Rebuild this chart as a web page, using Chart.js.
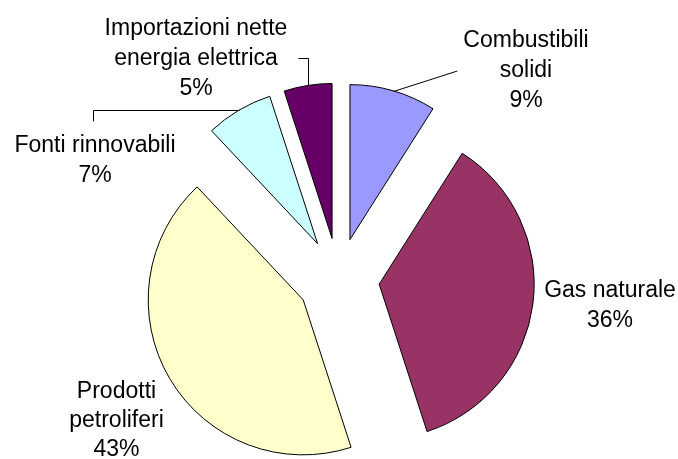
<!DOCTYPE html>
<html>
<head>
    <meta charset="utf-8">
    <script src="https://cdn.jsdelivr.net/npm/chart.js@4.4.1/dist/chart.umd.min.js"></script>
    <style>
        html, body { margin: 0; padding: 0; background: #fff; }
        #wrap { width: 678px; height: 459px; position: relative; }
    </style>
</head>

<body>
    <div id="wrap">
        <canvas id="myChart"></canvas>
    </div>

    <script>
        // data
        const categories = ['Combustibili solidi', 'Gas naturale', 'Prodotti petroliferi', 'Fonti rinnovabili', 'Importazioni nette energia elettrica'];
        const labelLines = [['Combustibili', 'solidi'], ['Gas naturale'], ['Prodotti', 'petroliferi'], ['Fonti rinnovabili'], ['Importazioni nette', 'energia elettrica']];
        const shares = [9, 36, 43, 7, 5];
        const colors = ['#9999FF', '#993366', '#FFFFCC', '#CCFFFF', '#660066'];

        const GAP = 41;       // how far every slice is pulled out
        const LINE_H = 30;

        // where each label sits, relative to the pie centre (first baseline)
        const labelLayout = [
            { dx: 187.5, dy: -232, leader: 'straight' },
            { dx: 271.5, dy: 18 },
            { dx: -222, dy: 119, lineH: 29 },
            { dx: -243.5, dy: -127, leader: 'left' },
            { dx: -142.5, dy: -244, leader: 'up' }
        ];

        // pull every slice out along its middle angle
        const explode = {
            id: 'explode',
            afterDatasetUpdate(chart, args) {
                args.meta.data.forEach(arc => {
                    if (arc._exploded) return;
                    const baseDraw = arc.draw;
                    arc.draw = function (ctx, area) {
                        const mid = (this.startAngle + this.endAngle) / 2;
                        ctx.save();
                        ctx.translate(Math.cos(mid) * GAP, Math.sin(mid) * GAP);
                        baseDraw.call(this, ctx, area);
                        ctx.restore();
                    };
                    arc._exploded = true;
                });
            }
        };

        const pieLabels = {
            id: 'pieLabels',
            afterDatasetsDraw(chart) {
                const ctx = chart.ctx;
                const meta = chart.getDatasetMeta(0);
                ctx.save();
                ctx.font = '23px "Liberation Sans", Arial, sans-serif';
                ctx.fillStyle = '#000';
                ctx.strokeStyle = '#000';
                ctx.lineWidth = 1;
                ctx.textAlign = 'center';
                ctx.textBaseline = 'alphabetic';
                meta.data.forEach((arc, i) => {
                    const lay = labelLayout[i];
                    const lh = lay.lineH || LINE_H;
                    const lines = labelLines[i].concat(shares[i] + '%');
                    const cx = arc.x + lay.dx;
                    const by = arc.y + lay.dy;
                    lines.forEach((t, k) => ctx.fillText(t, cx, by + k * lh));
                    if (!lay.leader) return;

                    const w = Math.max(...lines.map(t => ctx.measureText(t).width));
                    const mid = (arc.startAngle + arc.endAngle) / 2;
                    const r = arc.outerRadius + GAP;
                    const ax = Math.round(arc.x + Math.cos(mid) * r) + 0.5;
                    const ay = Math.round(arc.y + Math.sin(mid) * r) + 0.5;
                    ctx.beginPath();
                    ctx.moveTo(ax, ay);
                    if (lay.leader === 'straight') {
                        ctx.lineTo(cx - w / 2 - 6, by + 24);
                    } else if (lay.leader === 'up') {
                        const ly = Math.round(by + 23) + 0.5;
                        ctx.lineTo(ax, ly);
                        ctx.lineTo(ax - 10, ly);
                    } else if (lay.leader === 'left') {
                        const lx = Math.round(cx - 2) + 0.5;
                        ctx.lineTo(lx, ay);
                        ctx.lineTo(lx, ay + 11);
                    }
                    ctx.stroke();
                });
                ctx.restore();
            }
        };

        const data = {
            labels: categories,
            datasets: [{
                data: shares,
                backgroundColor: colors,
                borderColor: '#000',
                borderWidth: 1,
                borderJoinStyle: 'miter',
                radius: 155
            }]
        };

        const config = {
            type: 'pie',
            data: data,
            options: {
                responsive: true,
                maintainAspectRatio: false,
                animation: false,
                layout: {
                    padding: { top: 99, left: 0, right: 1, bottom: 0 }
                },
                plugins: {
                    legend: { display: false },
                    tooltip: { enabled: false }
                }
            },
            plugins: [explode, pieLabels]
        };

        var chart = new Chart(
            document.getElementById('myChart'),
            config
        );
    </script>
</body>
</html>
